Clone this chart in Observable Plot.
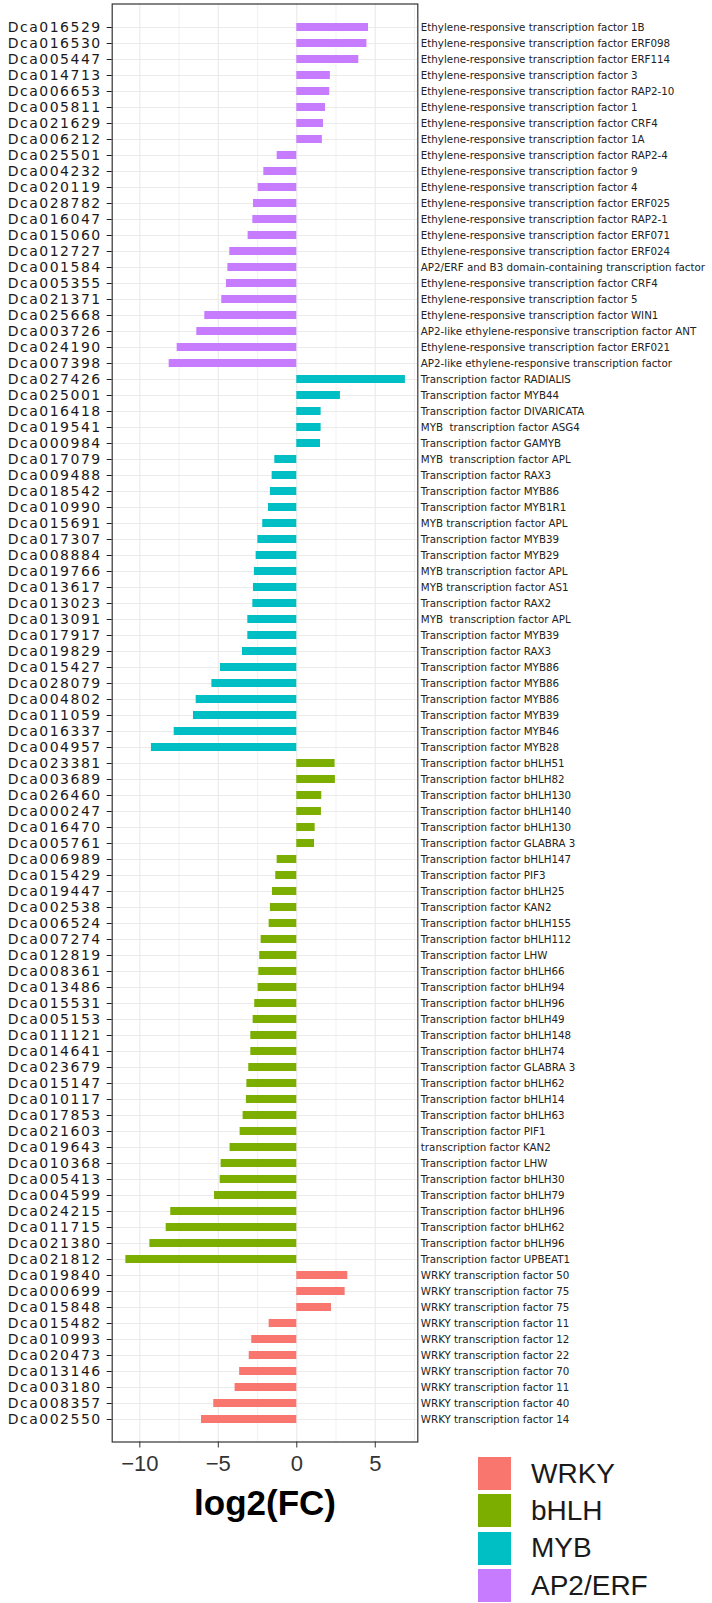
<!DOCTYPE html>
<html>
<head>
<meta charset="utf-8">
<script src="https://cdn.jsdelivr.net/npm/d3@7"></script>
<script src="https://cdn.jsdelivr.net/npm/@observablehq/plot@0.6"></script>
<style>
  html, body { margin: 0; padding: 0; background: white; }
  #wrap { position: relative; width: 712px; height: 1603px; font-family: "Liberation Sans", Arial, sans-serif; }
  svg text { white-space: pre; }
  #legend { position: absolute; left: 477px; top: 1455px; }
  .item { display: flex; align-items: center; height: 37.3px; }
  .key { width: 35px; height: 35px; box-sizing: border-box; border: 1px solid white; }
  .lab { margin-left: 19px; font-size: 28px; color: #1a1a1a; line-height: 1; }
</style>
</head>
<body>
<div id="wrap"></div>
<script>
// ---- data (top to bottom) ----
const ids = [
  "Dca016529","Dca016530","Dca005447","Dca014713","Dca006653","Dca005811","Dca021629","Dca006212",
  "Dca025501","Dca004232","Dca020119","Dca028782","Dca016047","Dca015060","Dca012727","Dca001584",
  "Dca005355","Dca021371","Dca025668","Dca003726","Dca024190","Dca007398",
  "Dca027426","Dca025001","Dca016418","Dca019541","Dca000984","Dca017079","Dca009488","Dca018542",
  "Dca010990","Dca015691","Dca017307","Dca008884","Dca019766","Dca013617","Dca013023","Dca013091",
  "Dca017917","Dca019829","Dca015427","Dca028079","Dca004802","Dca011059","Dca016337","Dca004957",
  "Dca023381","Dca003689","Dca026460","Dca000247","Dca016470","Dca005761","Dca006989","Dca015429",
  "Dca019447","Dca002538","Dca006524","Dca007274","Dca012819","Dca008361","Dca013486","Dca015531",
  "Dca005153","Dca011121","Dca014641","Dca023679","Dca015147","Dca010117","Dca017853","Dca021603",
  "Dca019643","Dca010368","Dca005413","Dca004599","Dca024215","Dca011715","Dca021380","Dca021812",
  "Dca019840","Dca000699","Dca015848","Dca015482","Dca010993","Dca020473","Dca013146","Dca003180",
  "Dca008357","Dca002550"
];
const log2FC = [
  4.57, 4.47, 3.95, 2.14, 2.10, 1.83, 1.70, 1.63,
  -1.25, -2.10, -2.46, -2.76, -2.80, -3.10, -4.27, -4.39,
  -4.48, -4.78, -5.86, -6.37, -7.62, -8.13,
  6.92, 2.78, 1.55, 1.55, 1.51, -1.40, -1.57, -1.68,
  -1.80, -2.17, -2.48, -2.59, -2.70, -2.76, -2.80, -3.12,
  -3.12, -3.46, -4.86, -5.41, -6.41, -6.58, -7.81, -9.26,
  2.44, 2.46, 1.59, 1.57, 1.17, 1.13, -1.25, -1.34,
  -1.55, -1.68, -1.76, -2.27, -2.36, -2.42, -2.46, -2.68,
  -2.78, -2.93, -2.93, -3.06, -3.18, -3.21, -3.42, -3.61,
  -4.25, -4.82, -4.88, -5.24, -8.03, -8.32, -9.36, -10.89,
  3.25, 3.08, 2.21, -1.76, -2.87, -3.03, -3.64, -3.93,
  -5.29, -6.07
];
const familyCounts = [["AP2/ERF", 22], ["MYB", 24], ["bHLH", 32], ["WRKY", 10]];
const descriptions = [
  "Ethylene-responsive transcription factor 1B",
  "Ethylene-responsive transcription factor ERF098",
  "Ethylene-responsive transcription factor ERF114",
  "Ethylene-responsive transcription factor 3",
  "Ethylene-responsive transcription factor RAP2-10",
  "Ethylene-responsive transcription factor 1",
  "Ethylene-responsive transcription factor CRF4",
  "Ethylene-responsive transcription factor 1A",
  "Ethylene-responsive transcription factor RAP2-4",
  "Ethylene-responsive transcription factor 9",
  "Ethylene-responsive transcription factor 4",
  "Ethylene-responsive transcription factor ERF025",
  "Ethylene-responsive transcription factor RAP2-1",
  "Ethylene-responsive transcription factor ERF071",
  "Ethylene-responsive transcription factor ERF024",
  "AP2/ERF and B3 domain-containing transcription factor",
  "Ethylene-responsive transcription factor CRF4",
  "Ethylene-responsive transcription factor 5",
  "Ethylene-responsive transcription factor WIN1",
  "AP2-like ethylene-responsive transcription factor ANT",
  "Ethylene-responsive transcription factor ERF021",
  "AP2-like ethylene-responsive transcription factor",
  "Transcription factor RADIALIS",
  "Transcription factor MYB44",
  "Transcription factor DIVARICATA",
  "MYB  transcription factor ASG4",
  "Transcription factor GAMYB",
  "MYB  transcription factor APL",
  "Transcription factor RAX3",
  "Transcription factor MYB86",
  "Transcription factor MYB1R1",
  "MYB transcription factor APL",
  "Transcription factor MYB39",
  "Transcription factor MYB29",
  "MYB transcription factor APL",
  "MYB transcription factor AS1",
  "Transcription factor RAX2",
  "MYB  transcription factor APL",
  "Transcription factor MYB39",
  "Transcription factor RAX3",
  "Transcription factor MYB86",
  "Transcription factor MYB86",
  "Transcription factor MYB86",
  "Transcription factor MYB39",
  "Transcription factor MYB46",
  "Transcription factor MYB28",
  "Transcription factor bHLH51",
  "Transcription factor bHLH82",
  "Transcription factor bHLH130",
  "Transcription factor bHLH140",
  "Transcription factor bHLH130",
  "Transcription factor GLABRA 3",
  "Transcription factor bHLH147",
  "Transcription factor PIF3",
  "Transcription factor bHLH25",
  "Transcription factor KAN2",
  "Transcription factor bHLH155",
  "Transcription factor bHLH112",
  "Transcription factor LHW",
  "Transcription factor bHLH66",
  "Transcription factor bHLH94",
  "Transcription factor bHLH96",
  "Transcription factor bHLH49",
  "Transcription factor bHLH148",
  "Transcription factor bHLH74",
  "Transcription factor GLABRA 3",
  "Transcription factor bHLH62",
  "Transcription factor bHLH14",
  "Transcription factor bHLH63",
  "Transcription factor PIF1",
  "transcription factor KAN2",
  "Transcription factor LHW",
  "Transcription factor bHLH30",
  "Transcription factor bHLH79",
  "Transcription factor bHLH96",
  "Transcription factor bHLH62",
  "Transcription factor bHLH96",
  "Transcription factor UPBEAT1",
  "WRKY transcription factor 50",
  "WRKY transcription factor 75",
  "WRKY transcription factor 75",
  "WRKY transcription factor 11",
  "WRKY transcription factor 12",
  "WRKY transcription factor 22",
  "WRKY transcription factor 70",
  "WRKY transcription factor 11",
  "WRKY transcription factor 40",
  "WRKY transcription factor 14"
];
const legendOrder = ["WRKY", "bHLH", "MYB", "AP2/ERF"];
const familyColors = ["#F8766D", "#7CAE00", "#00BFC4", "#C77CFF"];
const majorTicks = [-10, -5, 0, 5];
const minorTicks = [-7.5, -2.5, 2.5, 7.5];
const axisTitle = "log2(FC)";

// ---- build table ----
const families = familyCounts.flatMap(([f, n]) => Array(n).fill(f));
const rows = ids.map((id, i) => ({id, value: log2FC[i], family: families[i], desc: descriptions[i]}));

const plot = Plot.plot({
  width: 712,
  height: 1603,
  marginLeft: 111.7,
  marginRight: 294.7,
  marginTop: 3.5,
  marginBottom: 161.5,
  style: {fontFamily: "'Liberation Sans', Arial, sans-serif", background: "white", overflow: "visible"},
  x: {domain: [-11.76, 7.71], label: null},
  y: {domain: ids, paddingInner: 0.5, paddingOuter: 0.35, align: 0.5, label: null},
  color: {domain: legendOrder, range: familyColors},
  marks: [
    Plot.gridX(minorTicks, {stroke: "#ebebeb", strokeOpacity: 1, strokeWidth: 0.7}),
    Plot.gridX(majorTicks, {stroke: "#ebebeb", strokeOpacity: 1, strokeWidth: 1.2}),
    Plot.gridY({stroke: "#ebebeb", strokeOpacity: 1, strokeWidth: 1.2}),
    Plot.barX(rows, {x: "value", y: "id", fill: "family"}),
    Plot.frame({stroke: "#333333", strokeWidth: 1.2}),
    Plot.axisY({tickSize: 5, text: null, color: "#1a1a1a", label: null}),
    Plot.text(rows, {y: "id", text: "id", frameAnchor: "left", textAnchor: "end", dx: -10.5, fontSize: 14, fontFamily: "DejaVu Sans", fill: "#1a1a1a"}),
    Plot.axisX(majorTicks, {tickSize: 6, tickPadding: 7, fontSize: 22, color: "#333333", label: null}),
    Plot.text(rows, {y: "id", text: "desc", frameAnchor: "right", textAnchor: "start", dx: 3, fontSize: 10.3, fontFamily: "DejaVu Sans", fill: "#222222"}),
    Plot.text([axisTitle], {text: d => d, frameAnchor: "bottom", dy: 73, fontSize: 35, fontWeight: "bold", fill: "#000000"})
  ]
});

const wrap = document.getElementById("wrap");
wrap.appendChild(plot);

// slightly wider gene-id labels, as in the reference (CSS letter spacing only)
const idSet = new Set(ids);
plot.querySelectorAll("text").forEach(t => {
  if (idSet.has(t.textContent)) t.style.letterSpacing = "1.5px";
});

const color = plot.scale("color");
const legend = document.createElement("div");
legend.id = "legend";
for (const f of legendOrder) {
  const item = document.createElement("div");
  item.className = "item";
  const key = document.createElement("div");
  key.className = "key";
  key.style.background = color.apply(f);
  const lab = document.createElement("div");
  lab.className = "lab";
  lab.textContent = f;
  item.appendChild(key);
  item.appendChild(lab);
  legend.appendChild(item);
}
wrap.appendChild(legend);
</script>
</body>
</html>
